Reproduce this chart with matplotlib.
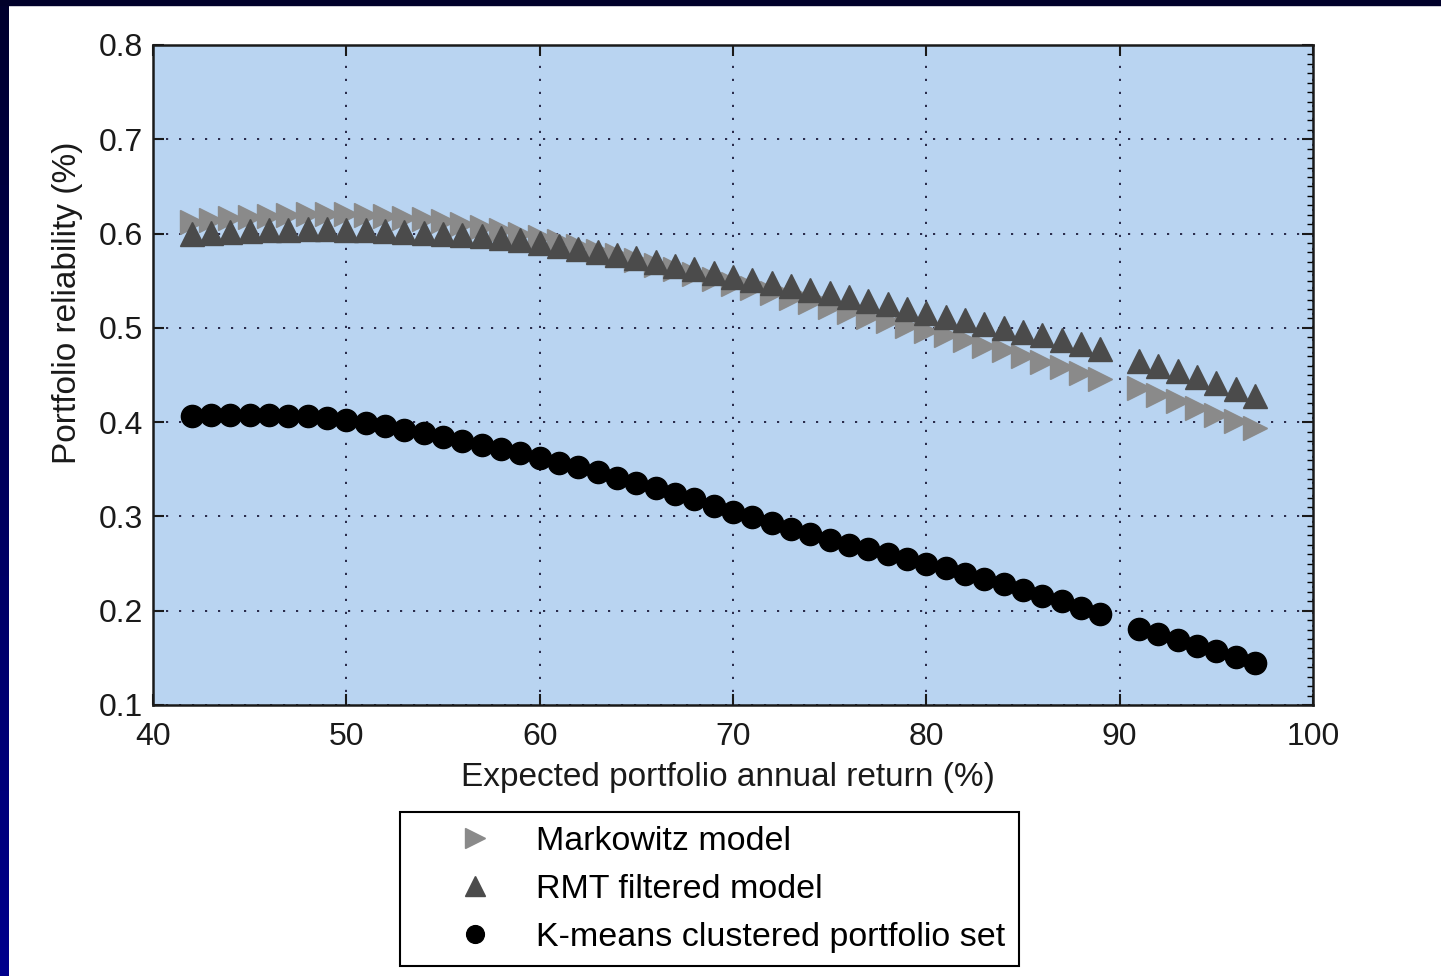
import numpy as np
import matplotlib.pyplot as plt
from matplotlib.patches import Rectangle
from matplotlib.ticker import MultipleLocator

plt.rcParams['font.family'] = ['Liberation Sans', 'DejaVu Sans']

# Expected annual return (%) - two runs with a gap at 90
ret_a = [42, 43, 44, 45, 46, 47, 48, 49, 50, 51, 52, 53, 54, 55, 56, 57, 58, 59,
         60, 61, 62, 63, 64, 65, 66, 67, 68, 69, 70, 71, 72, 73, 74, 75, 76, 77,
         78, 79, 80, 81, 82, 83, 84, 85, 86, 87, 88, 89]
ret_b = [91, 92, 93, 94, 95, 96, 97]

# Markowitz model reliability
markowitz_a = [0.612, 0.614, 0.616, 0.618, 0.619, 0.620, 0.621, 0.621, 0.621, 0.620,
               0.619, 0.617, 0.615, 0.613, 0.610, 0.607, 0.604, 0.600, 0.596, 0.592,
               0.587, 0.582, 0.577, 0.572, 0.567, 0.562, 0.557, 0.552, 0.547, 0.542,
               0.537, 0.532, 0.527, 0.522, 0.517, 0.512, 0.507, 0.502, 0.497, 0.492,
               0.487, 0.481, 0.476, 0.470, 0.464, 0.458, 0.452, 0.446]
markowitz_b = [0.436, 0.429, 0.422, 0.415, 0.408, 0.401, 0.394]

# RMT filtered model reliability
rmt_a = [0.600, 0.601, 0.602, 0.603, 0.604, 0.604, 0.605, 0.605, 0.604, 0.604,
         0.603, 0.602, 0.601, 0.600, 0.598, 0.597, 0.595, 0.593, 0.590, 0.587,
         0.584, 0.580, 0.577, 0.574, 0.570, 0.566, 0.562, 0.558, 0.554, 0.551,
         0.548, 0.544, 0.540, 0.537, 0.533, 0.529, 0.525, 0.520, 0.516, 0.512,
         0.508, 0.504, 0.500, 0.496, 0.492, 0.487, 0.483, 0.478]
rmt_b = [0.465, 0.460, 0.454, 0.448, 0.441, 0.435, 0.428]

# K-means clustered portfolio set reliability
kmeans_a = [0.407, 0.408, 0.408, 0.408, 0.408, 0.407, 0.406, 0.404, 0.402, 0.399,
            0.396, 0.392, 0.388, 0.384, 0.380, 0.376, 0.372, 0.367, 0.362, 0.357,
            0.352, 0.347, 0.341, 0.335, 0.330, 0.324, 0.318, 0.311, 0.305, 0.299,
            0.293, 0.287, 0.281, 0.275, 0.270, 0.265, 0.260, 0.255, 0.250, 0.245,
            0.239, 0.234, 0.228, 0.222, 0.216, 0.210, 0.203, 0.196]
kmeans_b = [0.181, 0.175, 0.169, 0.163, 0.157, 0.151, 0.145]

labels = ['Markowitz model', 'RMT filtered model', 'K-means clustered portfolio set']

fig = plt.figure(figsize=(14.41, 9.76), dpi=100, facecolor='white')

# slide-style navy edges
band = fig.add_axes([0, 0, 9 / 1441, 1])
band.imshow(np.linspace(0, 1, 100).reshape(-1, 1), aspect='auto',
            cmap=plt.matplotlib.colors.LinearSegmentedColormap.from_list(
                'navy', ['#00002e', '#00008c']), extent=[0, 1, 0, 1])
band.axis('off')
fig.patches.append(Rectangle((0, 1 - 5 / 976), 1, 5 / 976, transform=fig.transFigure,
                             color='#00002a', zorder=5))

ax = fig.add_axes([153 / 1441, 1 - 705 / 976, 1160 / 1441, 660 / 976])
ax.set_facecolor('#b9d4f1')

ax.plot(ret_a + ret_b, markowitz_a + markowitz_b, linestyle='none', marker='>',
        markersize=17.5, color='#8a8a8a', label=labels[0], zorder=3)
ax.plot(ret_a + ret_b, rmt_a + rmt_b, linestyle='none', marker='^',
        markersize=17.5, color='#4b4b4b', label=labels[1], zorder=4)
ax.plot(ret_a + ret_b, kmeans_a + kmeans_b, linestyle='none', marker='o',
        markersize=16, color='black', label=labels[2], zorder=5)

ax.set_xlim(40, 100)
ax.set_ylim(0.1, 0.8)
ax.set_xticks(range(40, 101, 10))
ax.set_yticks([0.1, 0.2, 0.3, 0.4, 0.5, 0.6, 0.7, 0.8])
ax.set_yticklabels(['0.1', '0.2', '0.3', '0.4', '0.5', '0.6', '0.7', '0.8'])
ax.yaxis.set_minor_locator(MultipleLocator(0.01))
ax.tick_params(which='major', direction='in', length=8, width=1.5,
               top=True, right=True, labelsize=23, pad=7, colors='#1a1a1a')
ax.tick_params(axis='x', which='major', pad=12)
ax.tick_params(which='minor', direction='in', length=4, width=1,
               left=False, right=True, top=False, bottom=False)
ax.grid(True, which='major', color='#1c1c3c', linestyle=(0, (1.2, 6)), linewidth=1.3)
for s in ax.spines.values():
    s.set_linewidth(1.8)
    s.set_color('#1a1a1a')

ax.set_xlabel('Expected portfolio annual return (%)', fontsize=24, color='#1a1a1a')
ax.xaxis.set_label_coords(0.496, -0.087)
ax.set_ylabel('Portfolio reliability (%)', fontsize=24, color='#1a1a1a')
ax.yaxis.set_label_coords(-0.06, 0.61)

leg = fig.legend(loc='upper left', bbox_to_anchor=(400 / 1441, 1 - 812 / 976),
                 fontsize=24.5, frameon=True, fancybox=False, framealpha=1,
                 edgecolor='black', borderpad=0.4, borderaxespad=0,
                 handlelength=3.6, handletextpad=0.0, labelspacing=0.5,
                 markerscale=0.8)
leg.get_frame().set_linewidth(1.5)

fig.savefig('out.png', dpi=100, facecolor='white')
